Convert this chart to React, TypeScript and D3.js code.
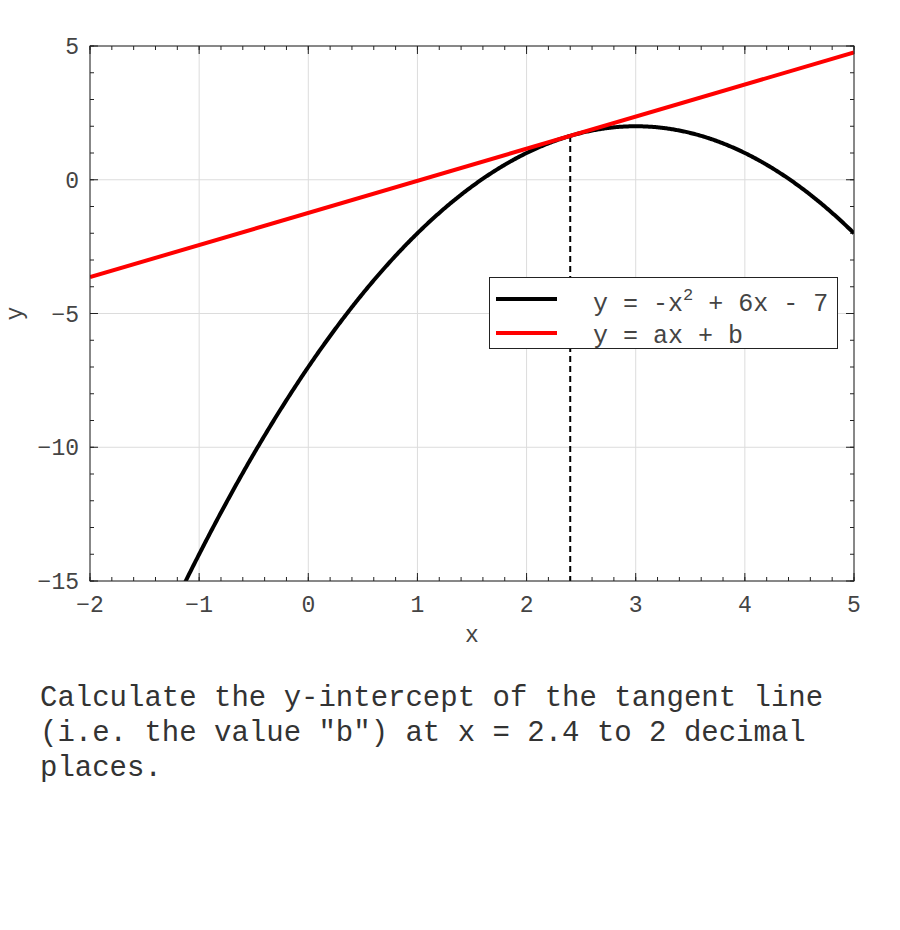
import React from "react";
import * as d3 from "d3";

const xTicks = [-2, -1, 0, 1, 2, 3, 4, 5];
const yTicks = [-15, -10, -5, 0, 5];
const xDomain = [-2, 5];
const yDomain = [-15, 5];
// y = c2 x^2 + c1 x + c0 (from the legend)
const quadCoeffs = [-1, 6, -7];
const tangentAt = 2.4;
const legendLabels = ["y = -x", "y = ax + b"];
const questionLines = [
  'Calculate the y-intercept of the tangent line',
  '(i.e. the value "b") at x = 2.4 to 2 decimal',
  "places.",
];

const W = 900;
const H = 930;
const M = { left: 90, right: 854, top: 46, bottom: 581 };
const FONT = "'Liberation Mono', 'DejaVu Sans Mono', monospace";
const TXT = "#444";
const TICK_FS = 23;

const f = (x: number) => quadCoeffs[0] * x * x + quadCoeffs[1] * x + quadCoeffs[2];
const df = (x: number) => 2 * quadCoeffs[0] * x + quadCoeffs[1];

export default function App() {
  const xs = d3.scaleLinear().domain(xDomain).range([M.left, M.right]);
  const ys = d3.scaleLinear().domain(yDomain).range([M.bottom, M.top]);

  const curveX = d3.range(xDomain[0], xDomain[1] + 1e-9, 0.01);
  const curvePts: [number, number][] = curveX.map((x) => [x, f(x)]);
  const line = d3
    .line<[number, number]>()
    .x((d) => xs(d[0]))
    .y((d) => ys(d[1]));

  const slope = df(tangentAt);
  const yT = f(tangentAt);
  const b = yT - slope * tangentAt;
  const tanPts: [number, number][] = [
    [xDomain[0], slope * xDomain[0] + b],
    [xDomain[1], slope * xDomain[1] + b],
  ];

  const xMinor = d3.range(xDomain[0], xDomain[1] + 1e-9, 0.2);
  const yMinor = d3.range(yDomain[0], yDomain[1] + 1e-9, 1);

  return (
    <svg
      width={W}
      height={H}
      style={{ position: "absolute", left: 0, top: 0, background: "#fff" }}
    >
      <defs>
        <clipPath id="plotclip">
          <rect x={M.left} y={M.top} width={M.right - M.left} height={M.bottom - M.top} />
        </clipPath>
      </defs>
      <rect x={0} y={0} width={W} height={H} fill="#fff" />
      {/* grid */}
      {xTicks.map((t) => (
        <line key={"gx" + t} x1={xs(t)} x2={xs(t)} y1={M.top} y2={M.bottom} stroke="#dcdcdc" strokeWidth={1} />
      ))}
      {yTicks.map((t) => (
        <line key={"gy" + t} x1={M.left} x2={M.right} y1={ys(t)} y2={ys(t)} stroke="#dcdcdc" strokeWidth={1} />
      ))}
      {/* minor ticks */}
      {xMinor.map((t, i) => (
        <g key={"mx" + i}>
          <line x1={xs(t)} x2={xs(t)} y1={M.bottom} y2={M.bottom - 4} stroke="#222" />
          <line x1={xs(t)} x2={xs(t)} y1={M.top} y2={M.top + 4} stroke="#222" />
        </g>
      ))}
      {yMinor.map((t, i) => (
        <g key={"my" + i}>
          <line x1={M.left} x2={M.left + 4} y1={ys(t)} y2={ys(t)} stroke="#222" />
          <line x1={M.right} x2={M.right - 4} y1={ys(t)} y2={ys(t)} stroke="#222" />
        </g>
      ))}
      {/* major ticks */}
      {xTicks.map((t) => (
        <g key={"tx" + t}>
          <line x1={xs(t)} x2={xs(t)} y1={M.bottom} y2={M.bottom - 8} stroke="#222" />
          <line x1={xs(t)} x2={xs(t)} y1={M.top} y2={M.top + 8} stroke="#222" />
          <text x={xs(t)} y={M.bottom + 31} textAnchor="middle" fontFamily={FONT} fontSize={TICK_FS} fill={TXT}>
            {t < 0 ? "\u2212" + Math.abs(t) : t}
          </text>
        </g>
      ))}
      {yTicks.map((t) => (
        <g key={"ty" + t}>
          <line x1={M.left} x2={M.left + 8} y1={ys(t)} y2={ys(t)} stroke="#222" />
          <line x1={M.right} x2={M.right - 8} y1={ys(t)} y2={ys(t)} stroke="#222" />
          <text x={M.left - 11} y={ys(t) + 8} textAnchor="end" fontFamily={FONT} fontSize={TICK_FS} fill={TXT}>
            {t < 0 ? "\u2212" + Math.abs(t) : t}
          </text>
        </g>
      ))}
      {/* axes labels */}
      <text x={(M.left + M.right) / 2} y={642} textAnchor="middle" fontFamily={FONT} fontSize={TICK_FS} fill={TXT}>
        x
      </text>
      <text
        transform={`translate(22, ${(M.top + M.bottom) / 2}) rotate(-90)`}
        textAnchor="middle"
        fontFamily={FONT}
        fontSize={TICK_FS}
        fill={TXT}
      >
        y
      </text>
      {/* data */}
      <g clipPath="url(#plotclip)">
        <line
          x1={xs(tangentAt)}
          x2={xs(tangentAt)}
          y1={ys(yT)}
          y2={M.bottom}
          stroke="#000"
          strokeWidth={2}
          strokeDasharray="6,4"
        />
        <path d={line(curvePts) || ""} fill="none" stroke="#000" strokeWidth={4} />
        <path d={line(tanPts) || ""} fill="none" stroke="#f00" strokeWidth={4} />
      </g>
      {/* frame */}
      <rect x={M.left} y={M.top} width={M.right - M.left} height={M.bottom - M.top} fill="none" stroke="#222" strokeWidth={1} />
      {/* legend */}
      <g>
        <rect x={489.5} y={277.5} width={348} height={71} fill="#fff" stroke="#222" strokeWidth={1} />
        <line x1={496} x2={557} y1={299} y2={299} stroke="#000" strokeWidth={4} />
        <line x1={496} x2={557} y1={333} y2={333} stroke="#f00" strokeWidth={4} />
        <text x={593} y={311} fontFamily={FONT} fontSize={25} fill={TXT} xmlSpace="preserve">
          {legendLabels[0]}
          <tspan dy={-11} fontSize={17}>2</tspan>
          <tspan dy={11}>{" + 6x - 7"}</tspan>
        </text>
        <text x={593} y={343} fontFamily={FONT} fontSize={25} fill={TXT}>
          {legendLabels[1]}
        </text>
      </g>
      {/* question */}
      {questionLines.map((l, i) => (
        <text key={i} x={40} y={706 + i * 35} fontFamily={FONT} fontSize={29} fill="#333" xmlSpace="preserve">
          {l}
        </text>
      ))}
    </svg>
  );
}
